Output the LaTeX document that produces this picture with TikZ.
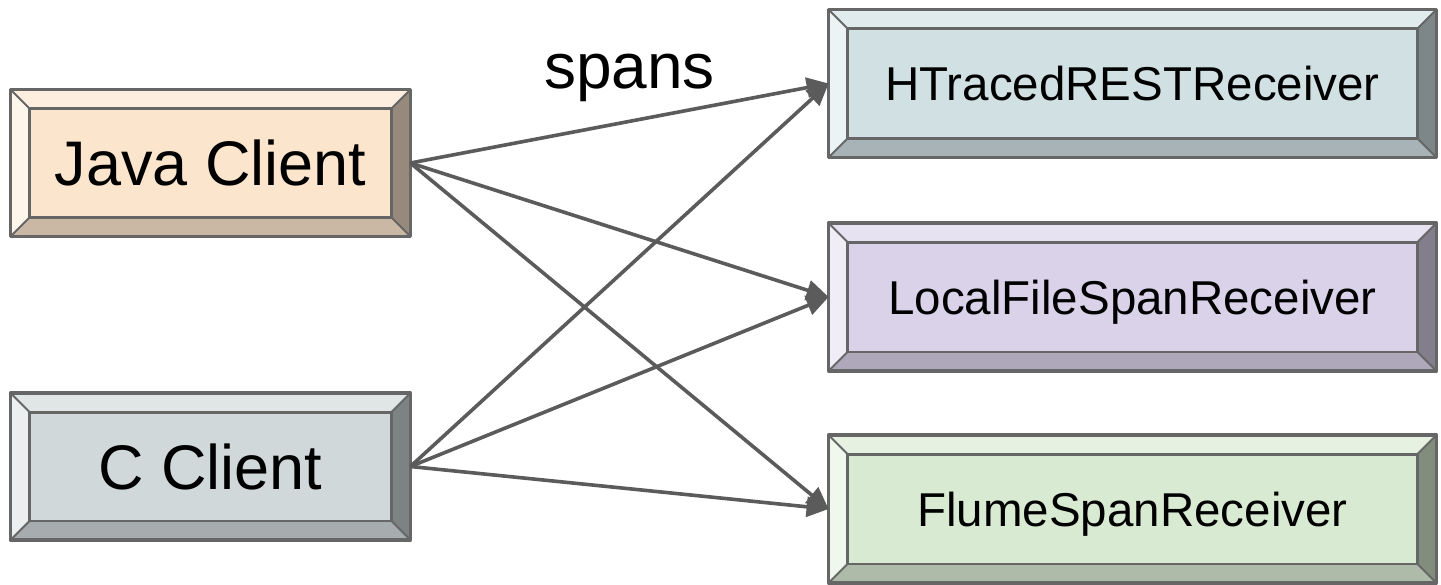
\documentclass[tikz,border=0pt]{standalone}
\usepackage{fontspec}
\setmainfont{Liberation Sans}
\usetikzlibrary{arrows.meta, calc}

\definecolor{javaface}{HTML}{FCE5CD}
\definecolor{cface}{HTML}{D0D8D9}
\definecolor{restface}{HTML}{D0E0E3}
\definecolor{fileface}{HTML}{D9D2E9}
\definecolor{flumeface}{HTML}{D9EAD3}
\definecolor{edgegray}{HTML}{666666}
\definecolor{wiregray}{HTML}{5B5B5B}

% bevelled frame round a named box: #1 = node, #2 = face colour
\newcommand{\bevel}[2]{%
  \fill[#2!65!white] (#1.north west) -- (#1.north east) -- ($(#1.north east)+(-9.5pt,-9.5pt)$) -- ($(#1.north west)+(9.5pt,-9.5pt)$) -- cycle;
  \fill[#2!40!white] (#1.north west) -- (#1.south west) -- ($(#1.south west)+(9.5pt,9.5pt)$) -- ($(#1.north west)+(9.5pt,-9.5pt)$) -- cycle;
  \fill[#2!80!black] (#1.south west) -- (#1.south east) -- ($(#1.south east)+(-9.5pt,9.5pt)$) -- ($(#1.south west)+(9.5pt,9.5pt)$) -- cycle;
  \fill[#2!60!black] (#1.north east) -- (#1.south east) -- ($(#1.south east)+(-9.5pt,9.5pt)$) -- ($(#1.north east)+(-9.5pt,-9.5pt)$) -- cycle;
  \draw[edgegray, line width=1.7pt, line join=round] (#1.north west) rectangle (#1.south east);
  \draw[edgegray, line width=1.4pt] ($(#1.north west)+(9.5pt,-9.5pt)$) rectangle ($(#1.south east)+(-9.5pt,9.5pt)$);
  \draw[edgegray, line width=0.9pt] (#1.north west) -- ++(9.5pt,-9.5pt) (#1.north east) -- ++(-9.5pt,-9.5pt)
    (#1.south west) -- ++(9.5pt,9.5pt) (#1.south east) -- ++(-9.5pt,9.5pt);
}

\begin{document}
\begin{tikzpicture}[x=0.5pt, y=-0.5pt,
    client/.style={fill=#1, inner sep=0pt, minimum width=199.5pt, minimum height=73pt,
      text depth=0pt, font=\fontsize{31.5pt}{36pt}\selectfont},
    receiver/.style={fill=#1, inner sep=0pt, minimum width=303.5pt, minimum height=73.5pt,
      text depth=0pt, font=\fontsize{23.75pt}{28pt}\selectfont},
    span/.style={wiregray, line width=1.8pt, -{Triangle[length=11pt, width=10pt]}}]
    \useasboundingbox (0,0) rectangle (1441,584);

    % clients
    \node[client=javaface] (java) at (210.5,163) {Java Client};
    \node[client=cface] (cclient) at (210.5,466.5) {C Client};
    \bevel{java}{javaface}
    \bevel{cclient}{cface}

    % receivers
    \node[receiver=restface] (rest) at (1132.5,83.5) {HTracedRESTReceiver};
    \node[receiver=fileface] (file) at (1132.5,297) {LocalFileSpanReceiver};
    \node[receiver=flumeface] (flume) at (1132.5,509) {FlumeSpanReceiver};
    \bevel{rest}{restface}
    \bevel{file}{fileface}
    \bevel{flume}{flumeface}

    % every client sends to every receiver
    \foreach \src in {java,cclient}
      \foreach \dst in {rest,file,flume}
        \draw[span] (\src.east) -- (\dst.west);

    \node[anchor=base, font=\fontsize{32pt}{36pt}\selectfont] (spans) at (629.5,88) {spans};
\end{tikzpicture}
\end{document}
